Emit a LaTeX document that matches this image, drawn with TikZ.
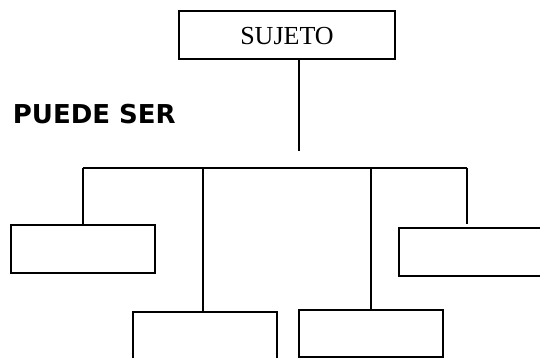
\documentclass[tikz,border=0pt]{standalone}
\usepackage{fontspec}
\setmainfont{Liberation Serif}
\newfontfamily\labelfont{DejaVu Sans}
\begin{document}
\begin{tikzpicture}[x=1pt,y=-1pt,
  box/.style={draw=black,line width=1.8pt,inner sep=0pt,fill=white},
  link/.style={draw=black,line width=1.8pt}]
\useasboundingbox (0,0) rectangle (540,358);
\clip (0,0) rectangle (540,358);
% top box
\node[box,minimum width=216.6pt,minimum height=48.3pt,
      font=\fontsize{26}{30}\selectfont,text height=18.3pt,text depth=0pt]
      (top) at (287,35.2) {SUJETO};
% label
\node[anchor=base west,inner sep=0pt,
      font=\labelfont\bfseries\fontsize{26}{30}\selectfont]
      (puede) at (12.7,123.3) {PUEDE SER};
% child boxes
\node[box,minimum width=144.3pt,minimum height=48pt] (b1) at (82.8,248.7) {};
\node[box,minimum width=144pt,minimum height=48pt] (b2) at (205.3,336.3) {};
\node[box,minimum width=143.7pt,minimum height=47pt] (b3) at (371.2,333.2) {};
\node[box,minimum width=144pt,minimum height=48pt] (b4) at (471.3,251.7) {};
% connectors
\coordinate (stemtop) at (299,59.3);
\coordinate (stemend) at (299,151);
\coordinate (barL) at (82.7,167.7);
\coordinate (barR) at (466.7,167.7);
\coordinate (tap2) at (202.7,167.7);
\coordinate (tap3) at (371,167.7);
\coordinate (end4) at (466.7,224);
\draw[link] (stemtop) -- (stemend);
\draw[link] (barL) -- (barR);
\draw[link] (barL) -- (b1.north -| barL);
\draw[link] (tap2) -- (b2.north -| tap2);
\draw[link] (tap3) -- (b3.north -| tap3);
\draw[link] (barR) -- (end4);
\end{tikzpicture}
\end{document}
